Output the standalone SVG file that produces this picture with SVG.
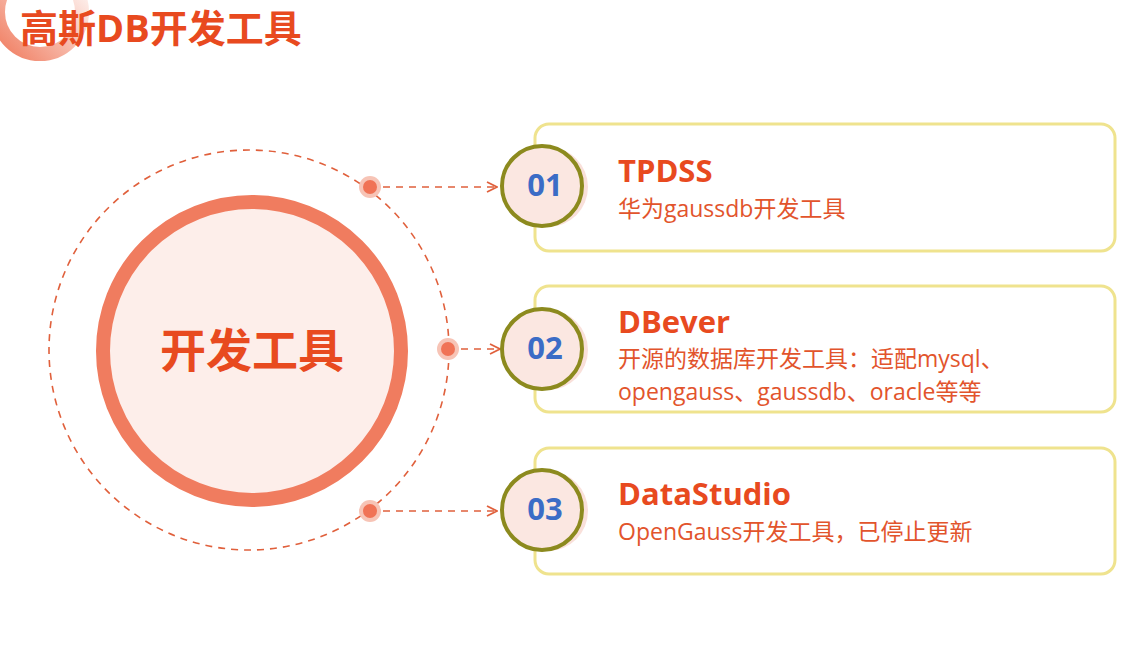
<svg xmlns="http://www.w3.org/2000/svg" width="1134" height="658" viewBox="0 0 1134 658">
<defs>
<linearGradient id="ringGrad" x1="0" y1="1" x2="1" y2="0">
<stop offset="0" stop-color="#f07c5f"/>
<stop offset="1" stop-color="#f07c5f" stop-opacity="0"/>
</linearGradient>
<marker id="arr" viewBox="0 0 12 12" refX="11" refY="6" markerWidth="12" markerHeight="12" markerUnits="userSpaceOnUse" orient="auto">
<path d="M1,1 L11,6 L1,11" fill="none" stroke="#e0603c" stroke-width="1.8"/>
</marker>
<style>
.cjk{font-family:"Open Sans","Noto Sans CJK SC",sans-serif;}
.card{fill:#ffffff;stroke:#efe38e;stroke-width:3;}
.num-shadow{fill:#f9e0da;}
.num{fill:#fbe7e1;stroke:#8c8a1e;stroke-width:4;}
.numtxt{font-family:"Open Sans","Noto Sans",sans-serif;font-weight:bold;font-size:31px;fill:#3b6cc6;text-anchor:middle;}
.title{font-weight:bold;font-size:31px;fill:#e84a1f;}
.sub{font-size:23px;fill:#e2542c;}
.dash{fill:none;stroke:#e0603c;stroke-width:1.6;stroke-dasharray:7 6;}
.halo{fill:#f7c4b6;}
.dot{fill:#f07356;}
</style>
</defs>
<rect width="1134" height="658" fill="#ffffff"/>

<g id="header">
<circle cx="40" cy="12" r="42" fill="none" stroke="url(#ringGrad)" stroke-width="14"/>
<text x="20" y="42" class="cjk" font-size="38" font-weight="bold" fill="#e84a1f">高斯DB开发工具</text>
</g>

<g id="hub">
<circle cx="249" cy="350" r="200" class="dash"/>
<circle cx="252" cy="351" r="149" fill="#fdeeea" stroke="#f07c5f" stroke-width="14"/>
<text x="252" y="367" class="cjk" font-size="46" font-weight="bold" fill="#e84a1f" text-anchor="middle">开发工具</text>
</g>

<g id="connectors">
<line x1="370" y1="187" x2="497" y2="187" class="dash" marker-end="url(#arr)"/>
<line x1="448" y1="349" x2="500" y2="349" class="dash" marker-end="url(#arr)"/>
<line x1="370" y1="511" x2="497" y2="511" class="dash" marker-end="url(#arr)"/>
<circle cx="370" cy="187" r="11" class="halo"/><circle cx="370" cy="187" r="7" class="dot"/>
<circle cx="448" cy="349" r="11" class="halo"/><circle cx="448" cy="349" r="7" class="dot"/>
<circle cx="370" cy="511" r="11" class="halo"/><circle cx="370" cy="511" r="7" class="dot"/>
</g>

<g id="card1">
<rect x="535" y="124" width="580" height="127" rx="14" class="card"/>
<circle cx="548" cy="187" r="40" class="num-shadow"/>
<circle cx="542" cy="186" r="40" class="num"/>
<text x="545" y="196" class="numtxt">01</text>
<text x="618" y="182" class="cjk title">TPDSS</text>
<text x="618" y="217" class="cjk sub">华为gaussdb开发工具</text>
</g>

<g id="card2">
<rect x="535" y="286" width="580" height="126" rx="14" class="card"/>
<circle cx="548" cy="350" r="40" class="num-shadow"/>
<circle cx="542" cy="349" r="40" class="num"/>
<text x="545" y="359" class="numtxt">02</text>
<text x="618" y="333" class="cjk title">DBever</text>
<text x="618" y="367" class="cjk sub">开源的数据库开发工具：适配mysql、</text>
<text x="618" y="400" class="cjk sub">opengauss、gaussdb、oracle等等</text>
</g>

<g id="card3">
<rect x="535" y="448" width="580" height="126" rx="14" class="card"/>
<circle cx="548" cy="511" r="40" class="num-shadow"/>
<circle cx="542" cy="510" r="40" class="num"/>
<text x="545" y="520" class="numtxt">03</text>
<text x="618" y="505" class="cjk title">DataStudio</text>
<text x="618" y="540" class="cjk sub">OpenGauss开发工具，已停止更新</text>
</g>
</svg>
